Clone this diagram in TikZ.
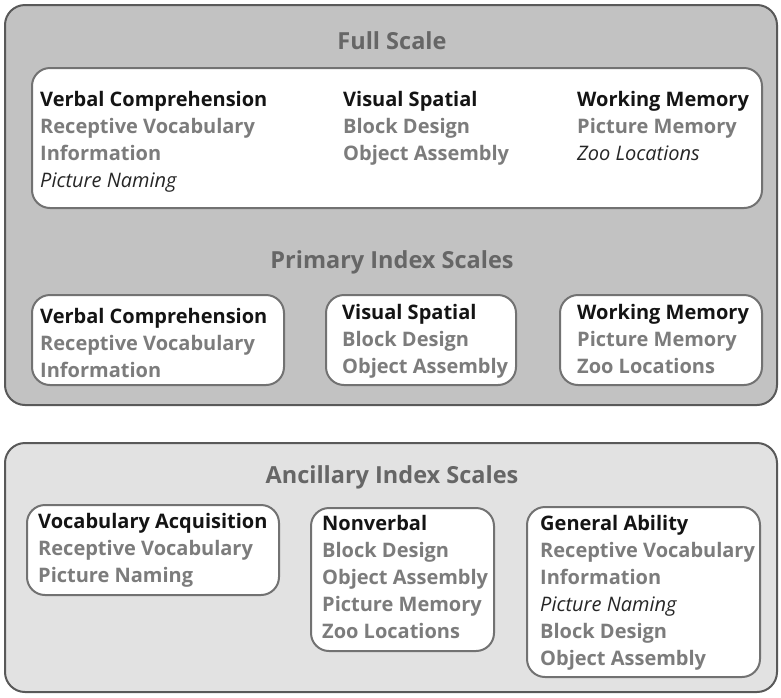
\documentclass[tikz,border=0pt]{standalone}
\usepackage{fontspec}
\setmainfont{Open Sans}
\usetikzlibrary{positioning}
\usepackage{xcolor}

\definecolor{paneldark}{HTML}{C2C2C2}
\definecolor{panellight}{HTML}{E2E2E2}
\definecolor{framegray}{HTML}{595959}
\definecolor{titlegray}{HTML}{666666}
\definecolor{itemgray}{HTML}{7C7C7C}

\newcommand{\hd}[1]{\textbf{\color{black!92}#1}}
\newcommand{\itm}[1]{{\color{itemgray}\bfseries #1}}
\newcommand{\itl}[1]{{\color{black!85}\itshape #1}}

\begin{document}
\begin{tikzpicture}[
  x=1pt, y=-1pt,
  panel/.style = {draw=framegray, line width=2pt, rounded corners=20pt},
  card/.style  = {draw=framegray!85, line width=2pt, fill=white, rounded corners=18pt},
  title/.style = {font=\fontsize{23.5}{27}\selectfont\bfseries, text=titlegray},
  col/.style   = {anchor=north west, inner sep=0pt, align=left,
                  font=\fontsize{20}{27}\selectfont}
]
\useasboundingbox (0,0) rectangle (781,697);

% ---- panels ----
\draw[panel, fill=paneldark]  (5,5)   rectangle (777,405);
\draw[panel, fill=panellight] (5,443) rectangle (777,692);

% ---- full scale ----
\node[title] (fullT) at (392,41) {Full Scale};
\draw[card] (32,68) rectangle (762,208);
\node[col] (fullVC) at (40,91) {\hd{Verbal Comprehension}\\ \itm{Receptive Vocabulary}\\
  \itm{Information}\\ \itl{Picture Naming}};
\node[col] (fullVS) at (343,91) {\hd{Visual Spatial}\\ \itm{Block Design}\\ \itm{Object Assembly}};
\node[col] (fullWM) at (577,91) {\hd{Working Memory}\\ \itm{Picture Memory}\\ \itl{Zoo Locations}};

% ---- primary index scales ----
\node[title] (primT) at (392,262) {Primary Index Scales};
\draw[card] (32,295)  rectangle (284,385);
\draw[card] (326,295) rectangle (516,385);
\draw[card] (560,295) rectangle (762,385);
\node[col] (primVC) at (40,308) {\hd{Verbal Comprehension}\\ \itm{Receptive Vocabulary}\\ \itm{Information}};
\node[col] (primVS) at (342,304) {\hd{Visual Spatial}\\ \itm{Block Design}\\ \itm{Object Assembly}};
\node[col] (primWM) at (577,304) {\hd{Working Memory}\\ \itm{Picture Memory}\\ \itm{Zoo Locations}};

% ---- ancillary index scales ----
\node[title] (ancT) at (392,477) {Ancillary Index Scales};
\draw[card] (27,505)  rectangle (279,595);
\draw[card] (311,508) rectangle (494,651);
\draw[card] (527,507) rectangle (760,677);
\node[col] (ancVA) at (38,513) {\hd{Vocabulary Acquisition}\\ \itm{Receptive Vocabulary}\\ \itm{Picture Naming}};
\node[col] (ancNV) at (322,515) {\hd{Nonverbal}\\ \itm{Block Design}\\ \itm{Object Assembly}\\
  \itm{Picture Memory}\\ \itm{Zoo Locations}};
\node[col] (ancGA) at (540,515) {\hd{General Ability}\\ \itm{Receptive Vocabulary}\\ \itm{Information}\\
  \itl{Picture Naming}\\ \itm{Block Design}\\ \itm{Object Assembly}};

\end{tikzpicture}
\end{document}
